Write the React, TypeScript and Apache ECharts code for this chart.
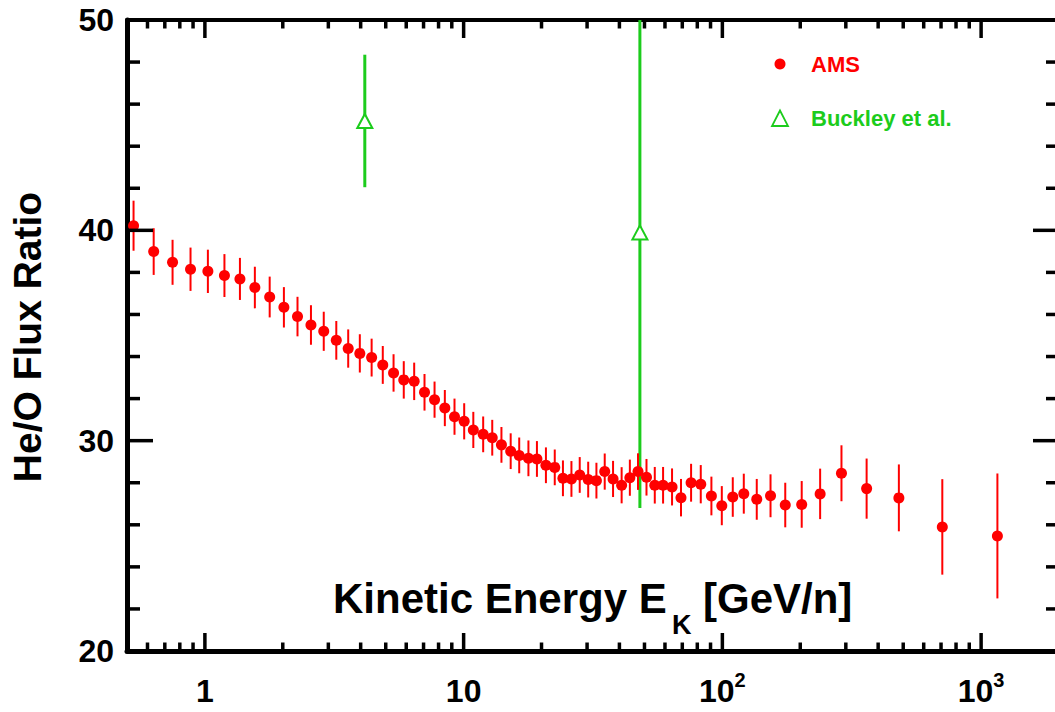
import React, { useEffect, useRef } from "react";
import * as echarts from "echarts";

// AMS He/O flux ratio
const amsEnergy = [
  0.53, 0.634, 0.75, 0.88, 1.027, 1.19, 1.366, 1.56, 1.78, 2.02, 2.28, 2.57, 2.88, 3.22, 3.58, 3.97, 4.41,
  4.87, 5.36, 5.87, 6.44, 7.06, 7.72, 8.46, 9.22, 10.05, 10.9, 11.9, 12.9, 14.0, 15.2, 16.4, 17.8, 19.2,
  20.8, 22.5, 24.2, 26.1, 28.1, 30.3, 32.6, 35.1, 37.8, 40.8, 43.9, 47.2, 50.9, 54.8, 59.0, 63.9, 69.2,
  75.7, 82.5, 90.7, 99.5, 109.7, 121, 135.8, 153.5, 175, 202.6, 238.7, 288.6, 361, 481, 708, 1156,
];
const amsRatio = [
  40.22, 38.99, 38.48, 38.15, 38.05, 37.85, 37.69, 37.28, 36.83, 36.34, 35.9, 35.5, 35.2, 34.77, 34.38,
  34.15, 33.95, 33.6, 33.22, 32.89, 32.82, 32.3, 31.95, 31.55, 31.14, 30.92, 30.51, 30.3, 30.14, 29.8,
  29.5, 29.3, 29.16, 29.13, 28.83, 28.73, 28.21, 28.18, 28.37, 28.15, 28.1, 28.53, 28.18, 27.88, 28.24,
  28.53, 28.26, 27.88, 27.88, 27.8, 27.29, 28.0, 27.93, 27.37, 26.91, 27.32, 27.48, 27.21, 27.38, 26.94,
  26.97, 27.47, 28.45, 27.72, 27.28, 25.9, 25.47,
];
const amsError = [
  1.19, 1.11, 1.07, 1.03, 1.03, 1.02, 1.0, 0.99, 0.97, 0.96, 0.94, 0.94, 0.93, 0.92, 0.91, 0.91, 0.9, 0.9,
  0.89, 0.89, 0.89, 0.87, 0.86, 0.86, 0.86, 0.86, 0.86, 0.85, 0.85, 0.85, 0.85, 0.85, 0.85, 0.85, 0.85,
  0.85, 0.85, 0.85, 0.85, 0.85, 0.85, 0.86, 0.86, 0.86, 0.86, 0.87, 0.87, 0.87, 0.87, 0.88, 0.89, 0.9,
  0.91, 0.92, 0.93, 0.94, 0.95, 0.97, 1.02, 1.06, 1.11, 1.2, 1.33, 1.43, 1.59, 2.27, 2.97,
];

// Buckley et al.
const buckleyEnergy = [4.15, 48];
const buckleyRatio = [45.2, 39.9];
const buckleyError = [3.15, 13.1];

// Axes
const xMin = 0.5;
const xMax = 2000;
const yMin = 20;
const yMax = 50;
const xMajorTicks = [1, 10, 100, 1000];
const xMinorTicks = [
  0.6, 0.7, 0.8, 0.9, 2, 3, 4, 5, 6, 7, 8, 9, 20, 30, 40, 50, 60, 70, 80, 90, 200, 300, 400, 500, 600,
  700, 800, 900,
];
const xTickLabels = ["{a|1}", "{a|10}", "{a|10}{s|2}", "{a|10}{s|3}"];
const yMajorTicks = [30, 40];
const yMinorTicks = [22, 24, 26, 28, 32, 34, 36, 38, 42, 44, 46, 48];

const RED = "#ff0000";
const GREEN = "#1ccc1c";
const FONT = "'Liberation Sans', Arial, Helvetica, sans-serif";

export default function App() {
  const ref = useRef<HTMLDivElement>(null);

  useEffect(() => {
    if (!ref.current) return;
    const chart = echarts.init(ref.current, undefined, { renderer: "svg" });

    const xTickData = [
      ...xMajorTicks.map((v) => [v, yMin, 1]),
      ...xMinorTicks.map((v) => [v, yMin, 0]),
    ];
    const yTickData = [
      ...yMajorTicks.map((v) => [xMin, v, 1]),
      ...yMinorTicks.map((v) => [xMin, v, 0]),
    ];
    const tickStyle = { stroke: "#000", lineWidth: 3.5, lineCap: "butt" };

    const option: any = {
      animation: false,
      grid: { left: 127, top: 20, right: 4, bottom: 61 },
      xAxis: [
        {
          type: "log",
          logBase: 10,
          min: xMin,
          max: xMax,
          position: "bottom",
          axisLine: { onZero: false, lineStyle: { color: "#000", width: 5 } },
          axisTick: { show: false },
          splitLine: { show: false },
          axisLabel: {
            margin: 19,
            formatter: (v: number) => {
              const i = xMajorTicks.findIndex((t) => Math.abs(t - v) / t < 1e-6);
              return i >= 0 ? xTickLabels[i] : "";
            },
            rich: {
              a: { fontSize: 32, fontWeight: "bold", fontFamily: FONT, color: "#000", lineHeight: 42 },
              s: {
                fontSize: 20,
                fontWeight: "bold",
                fontFamily: FONT,
                color: "#000",
                lineHeight: 20,
                verticalAlign: "top",
              },
            },
          },
        },
        {
          type: "log",
          logBase: 10,
          min: xMin,
          max: xMax,
          position: "top",
          axisLine: { onZero: false, lineStyle: { color: "#000", width: 4 } },
          axisTick: { show: false },
          axisLabel: { show: false },
          splitLine: { show: false },
        },
      ],
      yAxis: [
        {
          type: "value",
          min: yMin,
          max: yMax,
          interval: 10,
          position: "left",
          axisLine: { show: true, onZero: false, lineStyle: { color: "#000", width: 5 } },
          axisTick: { show: false },
          splitLine: { show: false },
          axisLabel: {
            margin: 13,
            fontSize: 32,
            fontWeight: "bold",
            fontFamily: FONT,
            color: "#000",
          },
        },
        {
          type: "value",
          min: yMin,
          max: yMax,
          interval: 10,
          position: "right",
          axisLine: { show: true, onZero: false, lineStyle: { color: "#000", width: 5 } },
          axisTick: { show: false },
          axisLabel: { show: false },
          splitLine: { show: false },
        },
      ],
      series: [
        {
          type: "custom",
          name: "xticks",
          xAxisIndex: 0,
          yAxisIndex: 0,
          silent: true,
          z: 10,
          data: xTickData,
          encode: { x: 0, y: 1 },
          renderItem: (params: any, api: any) => {
            const v = api.value(0);
            const len = api.value(2) ? 18 : 8.5;
            const b = api.coord([v, yMin]);
            const t = api.coord([v, yMax]);
            return {
              type: "group",
              children: [
                { type: "line", shape: { x1: b[0], y1: b[1], x2: b[0], y2: b[1] - len }, style: tickStyle },
                { type: "line", shape: { x1: t[0], y1: t[1], x2: t[0], y2: t[1] + len }, style: tickStyle },
              ],
            };
          },
        },
        {
          type: "custom",
          name: "yticks",
          xAxisIndex: 0,
          yAxisIndex: 0,
          silent: true,
          z: 10,
          data: yTickData,
          encode: { x: 0, y: 1 },
          renderItem: (params: any, api: any) => {
            const v = api.value(1);
            const len = api.value(2) ? 26 : 13;
            const l = api.coord([xMin, v]);
            const r = api.coord([xMax, v]);
            return {
              type: "group",
              children: [
                { type: "line", shape: { x1: l[0], y1: l[1], x2: l[0] + len, y2: l[1] }, style: tickStyle },
                { type: "line", shape: { x1: r[0], y1: r[1], x2: r[0] - len, y2: r[1] }, style: tickStyle },
              ],
            };
          },
        },
        {
          type: "custom",
          name: "Buckley errors",
          clip: true,
          silent: true,
          z: 1,
          data: buckleyEnergy.map((e, i) => [e, buckleyRatio[i], buckleyError[i]]),
          encode: { x: 0, y: 1 },
          renderItem: (params: any, api: any) => {
            const e = api.value(0);
            const r = api.value(1);
            const d = api.value(2);
            const lo = api.coord([e, r - d]);
            const hi = api.coord([e, r + d]);
            return {
              type: "line",
              shape: { x1: lo[0], y1: lo[1], x2: hi[0], y2: hi[1] },
              style: { stroke: GREEN, lineWidth: 3 },
            };
          },
        },
        {
          type: "custom",
          name: "AMS errors",
          clip: true,
          silent: true,
          z: 2,
          data: amsEnergy.map((e, i) => [e, amsRatio[i], amsError[i]]),
          encode: { x: 0, y: 1 },
          renderItem: (params: any, api: any) => {
            const e = api.value(0);
            const r = api.value(1);
            const d = api.value(2);
            const lo = api.coord([e, r - d]);
            const hi = api.coord([e, r + d]);
            return {
              type: "line",
              shape: { x1: lo[0], y1: lo[1], x2: hi[0], y2: hi[1] },
              style: { stroke: RED, lineWidth: 2 },
            };
          },
        },
        {
          type: "scatter",
          name: "AMS",
          z: 3,
          symbol: "circle",
          symbolSize: 11,
          itemStyle: { color: RED, opacity: 1 },
          data: amsEnergy.map((e, i) => [e, amsRatio[i]]),
        },
        {
          type: "scatter",
          name: "Buckley et al.",
          z: 4,
          symbol: "triangle",
          symbolSize: [15, 14],
          itemStyle: { color: "#ffffff", borderColor: GREEN, borderWidth: 2, opacity: 1 },
          data: buckleyEnergy.map((e, i) => [e, buckleyRatio[i]]),
        },
      ],
      graphic: [
        {
          type: "text",
          x: 27,
          y: 337,
          rotation: Math.PI / 2,
          style: {
            text: "He/O Flux Ratio",
            font: `bold 39px ${FONT}`,
            fill: "#000",
            align: "center",
            verticalAlign: "middle",
            textAlign: "center",
            textVerticalAlign: "middle",
          },
        },
        {
          type: "text",
          x: 333,
          y: 598,
          style: {
            text: "Kinetic Energy E",
            font: `bold 42px ${FONT}`,
            fill: "#000",
            align: "left",
            verticalAlign: "middle",
            textAlign: "left",
            textVerticalAlign: "middle",
          },
        },
        {
          type: "text",
          x: 672,
          y: 625,
          style: {
            text: "K",
            font: `bold 27px ${FONT}`,
            fill: "#000",
            align: "left",
            verticalAlign: "middle",
            textAlign: "left",
            textVerticalAlign: "middle",
          },
        },
        {
          type: "text",
          x: 703,
          y: 598,
          style: {
            text: "[GeV/n]",
            font: `bold 42px ${FONT}`,
            fill: "#000",
            align: "left",
            verticalAlign: "middle",
            textAlign: "left",
            textVerticalAlign: "middle",
          },
        },
        {
          type: "circle",
          shape: { cx: 780, cy: 64, r: 5.5 },
          style: { fill: RED },
        },
        {
          type: "text",
          x: 811,
          y: 64,
          style: {
            text: "AMS",
            font: `bold 22px ${FONT}`,
            fill: RED,
            align: "left",
            verticalAlign: "middle",
            textAlign: "left",
            textVerticalAlign: "middle",
          },
        },
        {
          type: "polygon",
          shape: { points: [[780, 110.5], [772, 126], [788, 126]] },
          style: { fill: "#ffffff", stroke: GREEN, lineWidth: 1.8 },
        },
        {
          type: "text",
          x: 811,
          y: 118.5,
          style: {
            text: "Buckley et al.",
            font: `bold 22px ${FONT}`,
            fill: GREEN,
            align: "left",
            verticalAlign: "middle",
            textAlign: "left",
            textVerticalAlign: "middle",
          },
        },
      ],
    };

    chart.setOption(option);
    return () => chart.dispose();
  }, []);

  return (
    <div style={{ position: "fixed", left: 0, top: 0, width: 1055, height: 712, overflow: "hidden", background: "#fff" }}>
      <div ref={ref} style={{ position: "absolute", left: 0, top: 0, width: 1063, height: 712 }} />
    </div>
  );
}
